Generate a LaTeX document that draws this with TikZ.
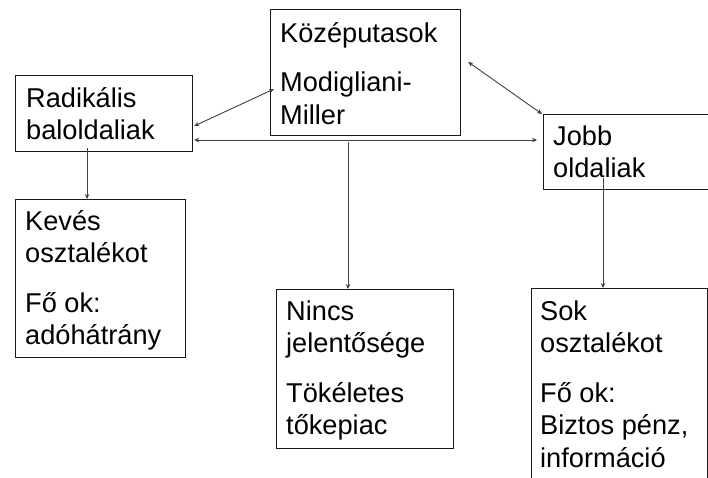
\documentclass[tikz,border=0pt]{standalone}
\usepackage{fontspec}
\setmainfont{Liberation Sans}
\usetikzlibrary{calc,arrows.meta}
\tikzset{
  box/.style={draw=black!90, line width=1.2pt, rectangle, inner sep=0pt, anchor=north west},
  txt/.style={anchor=north west, inner sep=0pt, align=left, font=\fontsize{27.2}{32.5}\selectfont},
  conn/.style={draw=black!75, line width=0.9pt, -{Stealth[length=5pt,width=4.5pt]}},
  bconn/.style={draw=black!75, line width=0.9pt, {Stealth[length=5pt,width=4.5pt]}-{Stealth[length=5pt,width=4.5pt]}}
}
\newcommand{\fs}{\rule{0pt}{26pt}}
\begin{document}
\begin{tikzpicture}[x=1pt,y=-1pt]
\useasboundingbox (0,0) rectangle (708,477);
% boxes
\node[box, minimum width=177pt, minimum height=76pt] (rad) at (15,75) {};
\node[box, minimum width=190pt, minimum height=126pt] (kozep) at (270,9) {};
\node[box, minimum width=180pt, minimum height=75pt] (jobb) at (543,114) {};
\node[box, minimum width=170pt, minimum height=158pt] (kev) at (15,199) {};
\node[box, minimum width=177pt, minimum height=159pt] (ninc) at (276,289) {};
\node[box, minimum width=176pt, minimum height=210pt] (sok) at (531,288) {};
% texts
\node[txt] (trad) at ($(rad.north west)+(11,6)$) {\fs Radikális\\baloldaliak};
\node[txt] (tkozep) at ($(kozep.north west)+(10,7)$) {\fs Középutasok\\[17pt]Modigliani-\\Miller};
\node[txt] (tjobb) at ($(jobb.north west)+(10,5)$) {\fs Jobb\\oldaliak};
\node[txt] (tkev) at ($(kev.north west)+(10,5)$) {\fs Kevés\\osztalékot\\[17pt]Fő ok:\\adóhátrány};
\node[txt] (tninc) at ($(ninc.north west)+(10,5)$) {\fs Nincs\\jelentősége\\[17pt]Tökéletes\\tőkepiac};
\node[txt] (tsok) at ($(sok.north west)+(9,6)$) {\fs Sok\\osztalékot\\[17pt]Fő ok:\\Biztos pénz,\\információ};
% connectors
\draw[bconn] ($(rad.north east)+(1,51)$) -- ($(kozep.north west)+(4,80)$);
\draw[bconn] ($(rad.north east)+(1,65)$) -- ($(jobb.north west)+(-6,26)$);
\draw[bconn] ($(kozep.north east)+(7,53)$) -- ($(jobb.north west)+(-1,0)$);
\draw[conn] ($(rad.south west)+(72,-4)$) -- ($(kev.north west)+(72,0)$);
\draw[conn] ($(kozep.south west)+(78,6)$) -- ($(ninc.north west)+(72,0)$);
\draw[conn] ($(jobb.north west)+(60,64)$) -- ($(sok.north west)+(72,0)$);
\end{tikzpicture}
\end{document}
